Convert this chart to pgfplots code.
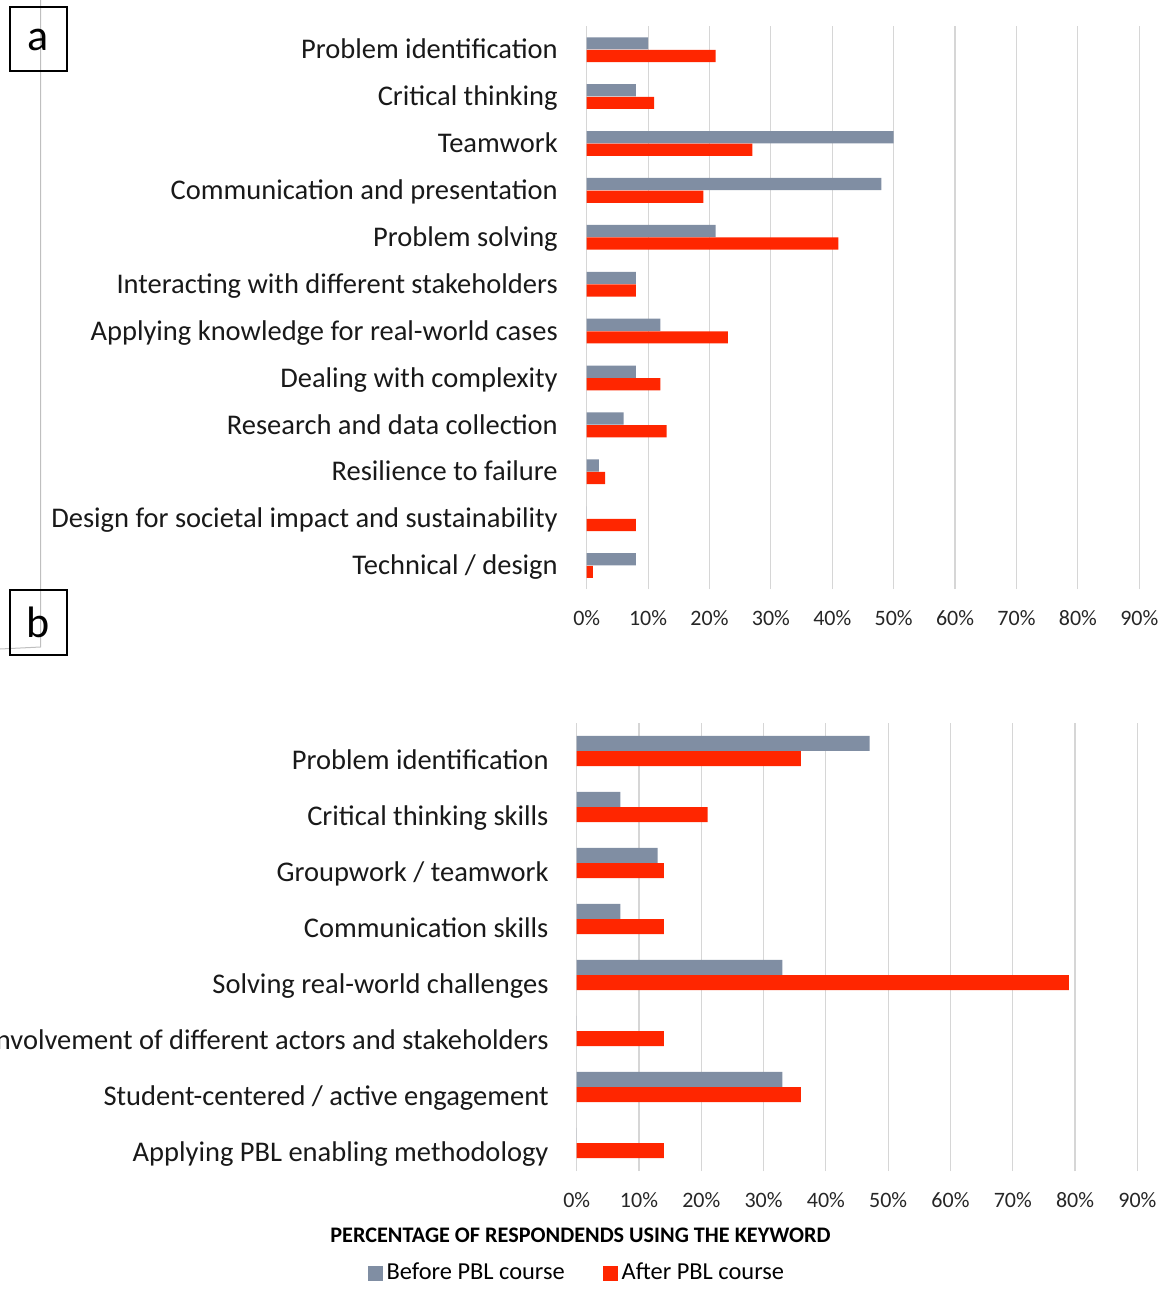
\documentclass[border=0pt]{standalone}
\usepackage{pgfplots}
\pgfplotsset{compat=1.18}
\usepackage{pgfplotstable}
\usepackage{fontspec}
\setmainfont{Carlito}

\definecolor{before}{RGB}{128,142,163}
\definecolor{after}{RGB}{255,38,0}
\definecolor{gridgrey}{RGB}{214,214,214}

% panel a: y index (11 = top row), % before, % after
\pgfplotstableread{
y before after
11 10 21
10 8 11
9 50 27
8 48 19
7 21 41
6 8 8
5 12 23
4 8 12
3 6 13
2 2 3
1 0 8
0 8 1
}\skillsa

% panel b
\pgfplotstableread{
y before after
7 47 36
6 7 21
5 13 14
4 7 14
3 33 79
2 0 14
1 33 36
0 0 14
}\skillsb

\pgfplotsset{
  pbl/.style={
    scale only axis,
    xbar,
    xmin=0, xmax=90,
    xtick={0,10,...,90},
    xticklabels={0\%,10\%,20\%,30\%,40\%,50\%,60\%,70\%,80\%,90\%},
    xmajorgrids,
    grid style={gridgrey, line width=0.6pt},
    axis line style={draw=none},
    tick style={draw=none},
    major tick length=0pt,
    xticklabel style={font=\fontsize{11}{13}\selectfont, text=black!85, anchor=center},
    yticklabel style={font=\fontsize{14.25}{16}\selectfont, text=black!90,
      anchor=base east, inner sep=0pt},
  },
}

\begin{document}
\begin{tikzpicture}[x=0.5pt, y=-0.5pt]
\path[use as bounding box] (0,0) rectangle (1168,1296);

% stray frame lines of the original figure
\draw[black!25, line width=0.5pt] (40.5,0) -- (40.5,647) -- (0,649);

% ---- panel a ----
\begin{axis}[pbl,
  at={(293.35pt,-13.1pt)}, anchor=north west,
  width=276.3pt, height=281.4pt,
  ymin=-0.5, ymax=11.5,
  ytick={0,...,11},
  yticklabels={Technical / design,
    Design for societal impact and sustainability,
    Resilience to failure,
    Research and data collection,
    Dealing with complexity,
    Applying knowledge for real-world cases,
    Interacting with different stakeholders,
    Problem solving,
    Communication and presentation,
    Teamwork,
    Critical thinking,
    Problem identification},
  xticklabel style={yshift=-14.6pt},
  yticklabel style={xshift=-14.3pt, yshift=-4.6pt},
]
\addplot[fill=before, draw=none, bar width=6.1pt, bar shift=3.15pt]
  table[x=before, y=y]{\skillsa};
\addplot[fill=after, draw=none, bar width=6.1pt, bar shift=-3.15pt]
  table[x=after, y=y]{\skillsa};
\end{axis}

% ---- panel b ----
\begin{axis}[pbl,
  at={(288.35pt,-361.5pt)}, anchor=north west,
  width=280.35pt, height=224pt,
  ymin=-0.5, ymax=7.5,
  ytick={0,...,7},
  yticklabels={Applying PBL enabling methodology,
    Student-centered / active engagement,
    Involvement of different actors and stakeholders,
    Solving real-world challenges,
    Communication skills,
    Groupwork / teamwork,
    Critical thinking skills,
    Problem identification},
  xticklabel style={yshift=-14.5pt},
  yticklabel style={xshift=-13.9pt, yshift=-9.1pt},
  xlabel={\textbf{PERCENTAGE OF RESPONDENDS USING THE KEYWORD}},
  xlabel style={at={(axis description cs:0.0068,-0.1429)}, anchor=center,
    font=\fontsize{11.1}{13}\selectfont, inner sep=0pt},
  legend columns=2,
  legend image code/.code={\fill[#1] (0pt,-3.75pt) rectangle (7.5pt,3.75pt);},
  legend style={at={(axis description cs:0.002,-0.2277)}, anchor=center,
    draw=none, fill=none, inner sep=0pt,
    font=\fontsize{12.2}{14}\selectfont,
    /tikz/every even column/.append style={column sep=17pt}},
]
\addplot[fill=before, draw=none, bar width=7.5pt, bar shift=3.85pt]
  table[x=before, y=y]{\skillsb};
\addlegendentry{Before PBL course}
\addplot[fill=after, draw=none, bar width=7.5pt, bar shift=-3.85pt]
  table[x=after, y=y]{\skillsb};
\addlegendentry{After PBL course}
\end{axis}

% panel letters
\draw[line width=1pt] (10,6.5) rectangle (67,71);
\node[font=\fontsize{22}{24}\selectfont] at (38.5,40) {a};
\draw[line width=1pt] (10,590) rectangle (67,655);
\node[font=\fontsize{22}{24}\selectfont] at (38.5,622) {b};
\end{tikzpicture}
\end{document}
